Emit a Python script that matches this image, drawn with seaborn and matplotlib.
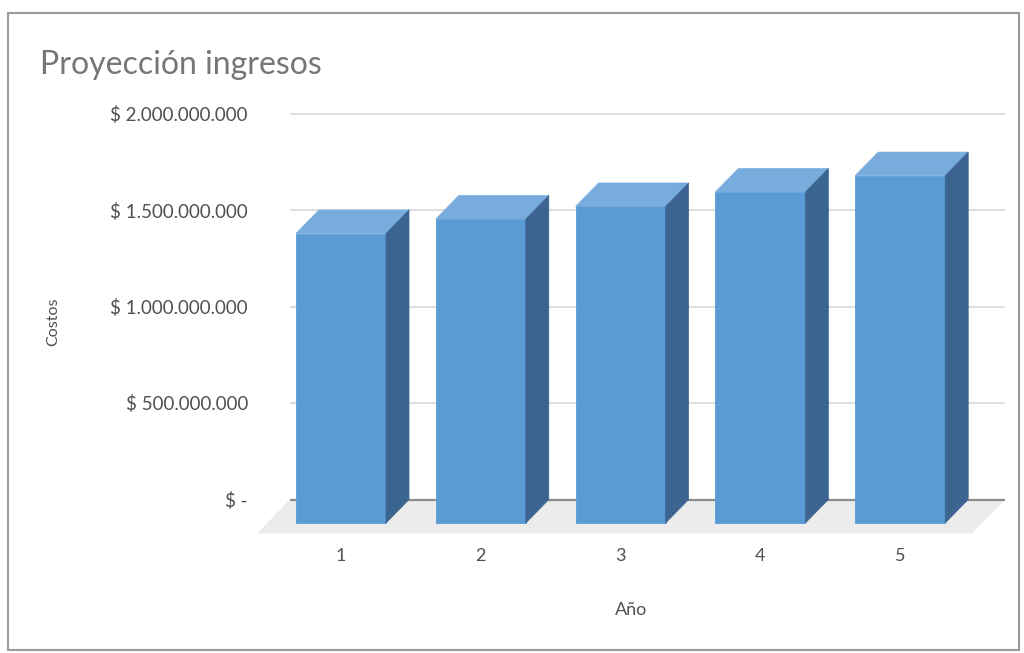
import matplotlib
matplotlib.use("Agg")
import matplotlib.pyplot as plt
from matplotlib.patches import Polygon, Rectangle
import seaborn as sns
import pandas as pd

# --- data -------------------------------------------------------------
years = ["1", "2", "3", "4", "5"]
revenue = [1.500e9, 1.575e9, 1.640e9, 1.715e9, 1.800e9]
tick_values = [0, 0.5e9, 1.0e9, 1.5e9, 2.0e9]

title = "Proyección ingresos"
x_label = "Año"
y_label = "Costos"

# --- style ------------------------------------------------------------
FRONT = "#5b9bd5"
TOP = "#78acdd"
SIDE = "#3b6590"
FLOOR = "#ececec"
GRID = "#dedede"
BASE = "#8c8c8c"
TEXT = "#505050"
TITLE_C = "#767676"

sns.set_theme(style="white")
plt.rcParams["font.family"] = ["Lato", "DejaVu Sans"]

W, H = 1024, 653
fig = plt.figure(figsize=(W / 100, H / 100), dpi=100)
# axes box in pixels: left, right, top, bottom
L, R, T, B = 250, 1010, 100, 540
ax = fig.add_axes([L / W, (H - B) / H, (R - L) / W, (B - T) / H])

df = pd.DataFrame({"Año": years, "Ingresos": revenue})
sns.barplot(data=df, x="Año", y="Ingresos", color=FRONT, saturation=1,
            width=0.644, linewidth=0.6, edgecolor=FRONT, ax=ax, zorder=3)

# front-plane coordinates: category spacing and value scale in pixels
PX_PER_X = 139.8
PX_PER_Y = 193.0 / 1e9
X0_PX, Y0_PX = 341, 523
ax.set_xlim((L - X0_PX) / PX_PER_X, (R - X0_PX) / PX_PER_X)
ax.set_ylim((Y0_PX - B) / PX_PER_Y, (Y0_PX - T) / PX_PER_Y)

# oblique depth of the columns and of the floor
DX = 23.0 / PX_PER_X
DY = 23.5 * 1e9 / 193.0
FLOOR_DX = 33.0 / PX_PER_X
FLOOR_DY = 34.0 * 1e9 / 193.0
wall_x0, wall_x1 = (290 - X0_PX) / PX_PER_X, (1005 - X0_PX) / PX_PER_X

# floor
ax.add_patch(Polygon([(wall_x0, DY), (wall_x1, DY),
                      (wall_x1 - FLOOR_DX, DY - FLOOR_DY),
                      (wall_x0 - FLOOR_DX, DY - FLOOR_DY)],
                     closed=True, facecolor=FLOOR, edgecolor="none", zorder=1))

# back-wall gridlines
for v in tick_values:
    ax.hlines(v + DY, wall_x0, wall_x1,
              color=BASE if v == 0 else GRID,
              linewidth=1.6 if v == 0 else 1.4, zorder=2)

# top and side faces of each column
for p in list(ax.patches):
    if not isinstance(p, Rectangle):
        continue
    x0, w, h = p.get_x(), p.get_width(), p.get_height()
    x1 = x0 + w
    ax.add_patch(Polygon([(x0, h), (x1, h), (x1 + DX, h + DY), (x0 + DX, h + DY)],
                         closed=True, facecolor=TOP, edgecolor=TOP,
                         linewidth=0.5, zorder=3.1))
    ax.add_patch(Polygon([(x1, 0), (x1, h), (x1 + DX, h + DY), (x1 + DX, DY)],
                         closed=True, facecolor=SIDE, edgecolor=SIDE,
                         linewidth=0.5, zorder=3.1))

# axes text
def money(v):
    if v == 0:
        return "$ -"
    return "$ " + f"{v:,.0f}".replace(",", ".")

ax.set_yticks([v + DY for v in tick_values])
ax.set_yticklabels([money(v) for v in tick_values])
ax.tick_params(axis="y", length=0, pad=1.5, labelsize=13.5, labelcolor=TEXT)
ax.tick_params(axis="x", length=0, pad=6, labelsize=13, labelcolor=TEXT)
for s in ax.spines.values():
    s.set_visible(False)
ax.grid(False)

ax.set_xlabel(x_label, fontsize=13, color=TEXT)
ax.set_ylabel(y_label, fontsize=11.5, color=TEXT)
ax.xaxis.set_label_coords((631 - L) / (R - L), (B - 610) / (B - T))
ax.yaxis.set_label_coords((53 - L) / (R - L), (B - 322) / (B - T))
ax.xaxis.label.set_va("center")
ax.yaxis.label.set_va("center")

fig.text(40 / W, 1 - 74 / H, title, fontsize=23, color=TITLE_C,
         ha="left", va="baseline")

# chart border
fig.add_artist(Rectangle((7.5 / W, 1 - 650 / H), (1018.5 - 7.5) / W, (650 - 12.5) / H,
                         transform=fig.transFigure, fill=False,
                         edgecolor="#9a9a9a", linewidth=1.5))

fig.savefig("out.png", dpi=100)
